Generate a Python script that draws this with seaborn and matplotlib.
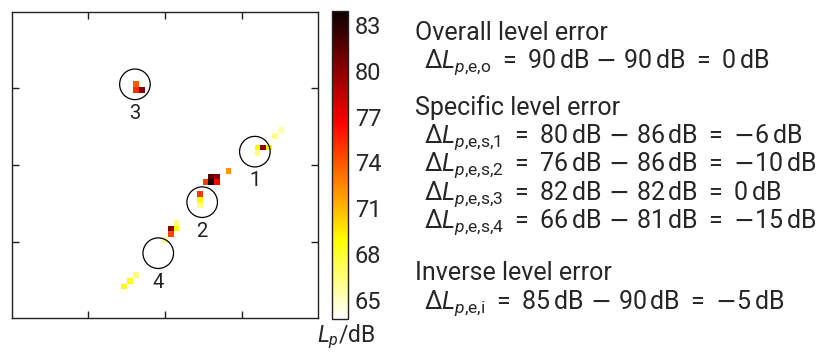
import numpy as np
import matplotlib
matplotlib.use("Agg")
import matplotlib.pyplot as plt
import seaborn as sns
from matplotlib.patches import Circle

# ---- source map on an N x N grid (row 0 at the top) ----
N = 53
cell_row = [12, 13, 13,
            23, 23, 23, 24, 21, 20,
            27, 28, 28, 29, 29, 29,
            31, 32, 33,
            36, 37, 37, 38, 39, 45, 46, 47]
cell_col = [21, 21, 22,
            42, 43, 44, 42, 45, 46,
            37, 34, 35, 33, 34, 35,
            32, 32, 32,
            28, 27, 28, 27, 26, 21, 20, 19]
cell_level = [73.8, 75.3, 80.2,
              69.0, 79.8, 69.2, 66.3, 66.0, 65.5,
              72.0, 81.4, 80.3, 74.8, 83.6, 76.6,
              74.8, 69.0, 66.3,
              66.5, 80.2, 69.2, 74.5, 66.0, 66.5, 68.2, 68.4]

# true source positions (grid units) and their labels
src_x = [42.04, 32.94, 21.32, 25.35]
src_y = [24.21, 32.94, 12.58, 41.75]
src_labels = ["1", "2", "3", "4"]

cbar_ticks = [65, 68, 71, 74, 77, 80, 83]
level_min, level_max = 63.8, 83.9

# level error summary
overall = (90, 90)
specific_measured = [80, 76, 82, 66]
specific_true = [86, 86, 82, 81]
inverse = (85, 90)

sns.set_style("white")
plt.rcParams["font.family"] = ["Roboto", "DejaVu Sans"]
plt.rcParams["mathtext.fontset"] = "custom"
plt.rcParams["mathtext.rm"] = "Roboto"
plt.rcParams["mathtext.it"] = "Roboto:italic"
plt.rcParams["mathtext.sf"] = "DejaVu Sans"

W, H = 826, 352
fig = plt.figure(figsize=(W / 100, H / 100), dpi=100)


def fx(px):
    return px / W


def fy(py):
    return 1 - py / H


ax = fig.add_axes([fx(11.5), fy(318.3), fx(318.3) - fx(11.5), fy(11.5) - fy(318.3)])
cax = fig.add_axes([fx(332), fy(318.5), fx(348) - fx(332), fy(11) - fy(318.5)])

level_map = np.full((N, N), np.nan)
level_map[cell_row, cell_col] = cell_level

sns.heatmap(level_map, ax=ax, cbar_ax=cax, cmap="hot_r",
            vmin=level_min, vmax=level_max,
            xticklabels=False, yticklabels=False)

# frame and inward ticks on all four sides
for sp in ax.spines.values():
    sp.set_visible(True)
    sp.set_color("#222222")
    sp.set_linewidth(1.0)
quarter = [N / 4, N / 2, 3 * N / 4]
ax.set_xticks(quarter)
ax.set_yticks(quarter)
ax.tick_params(direction="in", length=5, width=1.0, color="#222222",
               top=True, right=True, bottom=True, left=True,
               labelbottom=False, labelleft=False)

# circles around the true source positions
for x, y, lab in zip(src_x, src_y, src_labels):
    ax.add_patch(Circle((x, y), 2.64, fill=False, ec="black", lw=0.9))
    ax.text(x, y + 5.0, lab, ha="center", va="center", fontsize=14.5, color="#222222")

# colorbar
cb = ax.collections[0].colorbar
cb.outline.set_linewidth(1.0)
cb.outline.set_edgecolor("#222222")
cax.set_yticks(cbar_ticks)
cax.tick_params(direction="in", length=5, width=1.0, right=True, left=False,
                labelsize=17, pad=5, color="#222222")
fig.text(fx(346), fy(342), r"$L_p$/dB", ha="center", va="baseline", fontsize=16.5)

# level error summary text
fs = 18
x_head, x_eq = fx(415), fx(424)
MINUS = r"\mathsf{-}"


def num(v):
    return (MINUS if v < 0 else "") + "%d" % abs(v)


def eq(sub, a, b):
    sub_tex = "{,}".join(r"\mathrm{%s}" % s for s in sub.split(","))
    return (r"$\Delta L_{p{,}%s}\ =\ %s\,\mathrm{dB}\ %s\ %s\,\mathrm{dB}\ =\ %s\,\mathrm{dB}$"
            % (sub_tex, num(a), MINUS, num(b), num(a - b)))


fig.text(x_head, fy(40), "Overall level error", fontsize=fs, va="baseline")
fig.text(x_eq, fy(68), eq("e,o", *overall), fontsize=fs, va="baseline")
fig.text(x_head, fy(115), "Specific level error", fontsize=fs, va="baseline")
for i, (m, t) in enumerate(zip(specific_measured, specific_true)):
    fig.text(x_eq, fy(143 + 28.3 * i), eq("e,s,%d" % (i + 1), m, t), fontsize=fs, va="baseline")
fig.text(x_head, fy(280), "Inverse level error", fontsize=fs, va="baseline")
fig.text(x_eq, fy(309), eq("e,i", *inverse), fontsize=fs, va="baseline")

fig.savefig("out.png", dpi=100)
